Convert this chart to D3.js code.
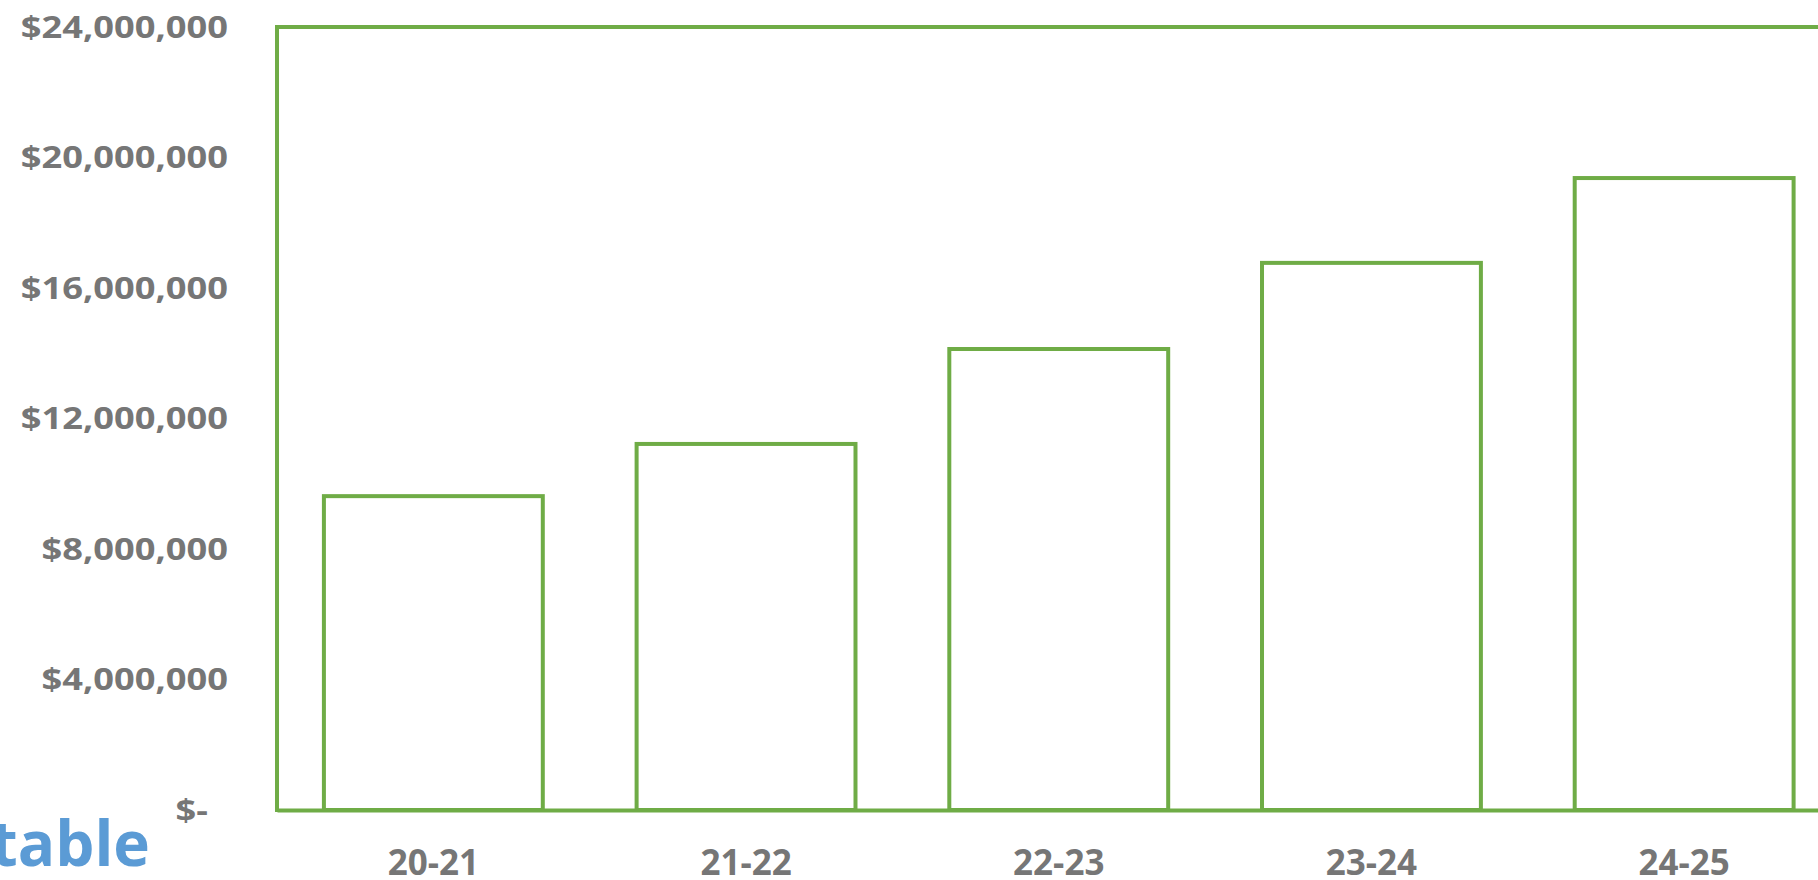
<!DOCTYPE html>
<html>
<head>
<meta charset="utf-8">
<script src="https://cdn.jsdelivr.net/npm/d3@7"></script>
<style>
  body { margin: 0; background: #fff; }
  svg { display: block; }
</style>
</head>
<body>
<svg id="chart"></svg>
<script>
const width = 1818;
const height = 880;

// data
var seasons = ["20-21", "21-22", "22-23", "23-24", "24-25"];
var amounts = [9620000, 11220000, 14130000, 16770000, 19370000];
var yTicks = [0, 4000000, 8000000, 12000000, 16000000, 20000000, 24000000];

var green = "#6fac46";
var grey = "#767676";

var svg = d3.select('#chart')
    .attr('width', width)
    .attr('height', height);

var plotLeft = 277, plotTop = 27, plotBottom = 810;
var step = 312.7;

var x = d3.scaleBand()
    .domain(seasons)
    .range([plotLeft, plotLeft + step * seasons.length])
    .paddingInner(0.3)
    .paddingOuter(0.15);

var y = d3.scaleLinear()
    .domain([0, 24000000])
    .range([plotBottom, plotTop]);

var fmt = function(d) { return d === 0 ? "$-" : "$" + d3.format(",")(d); };

// y axis labels (text looks stretched sideways in the original)
var yAxis = svg.append('g')
    .attr('transform', `translate(${plotLeft},0)`)
    .call(d3.axisLeft(y).tickValues(yTicks).tickFormat(fmt).tickSize(0).tickPadding(49));
yAxis.select('.domain').remove();
yAxis.selectAll('text')
    .attr('x', 0)
    .attr('dy', '0.33em')
    .attr('transform', d => `translate(${d === 0 ? -69 : -49},0) scale(1.17,1)`)
    .style('font-family', '"Open Sans", sans-serif')
    .style('font-weight', 700)
    .style('font-size', '31px')
    .style('fill', grey);

// bars
svg.append('g').selectAll('rect')
    .data(amounts)
    .enter().append('rect')
    .attr('x', (d, i) => x(seasons[i]))
    .attr('y', d => y(d))
    .attr('width', x.bandwidth())
    .attr('height', d => y(0) - y(d))
    .style('fill', '#fff')
    .style('stroke', green)
    .style('stroke-width', 4);

// frame: left, top, bottom
svg.append('line')
    .attr('x1', plotLeft).attr('x2', plotLeft)
    .attr('y1', y(24000000)).attr('y2', y(0))
    .style('stroke', green).style('stroke-width', 4).style('stroke-linecap', 'square');
svg.append('line')
    .attr('x1', plotLeft).attr('x2', x.range()[1])
    .attr('y1', y(24000000)).attr('y2', y(24000000))
    .style('stroke', green).style('stroke-width', 4).style('stroke-linecap', 'square');

var xAxis = svg.append('g')
    .attr('transform', `translate(0,${plotBottom})`)
    .call(d3.axisBottom(x).tickSize(0).tickPadding(40));
xAxis.select('.domain')
    .style('stroke', green)
    .style('stroke-width', 4);
xAxis.selectAll('text')
    .style('font-family', '"Open Sans", sans-serif')
    .style('font-weight', 700)
    .style('font-size', '35px')
    .style('fill', grey);

// leftover title fragment at the bottom left
svg.append('text')
    .attr('x', 150)
    .attr('y', 866)
    .attr('text-anchor', 'end')
    .style('font-family', '"Open Sans", sans-serif')
    .style('font-weight', 700)
    .style('font-size', '62px')
    .style('fill', '#5b9bd5')
    .text('table');
</script>
</body>
</html>
